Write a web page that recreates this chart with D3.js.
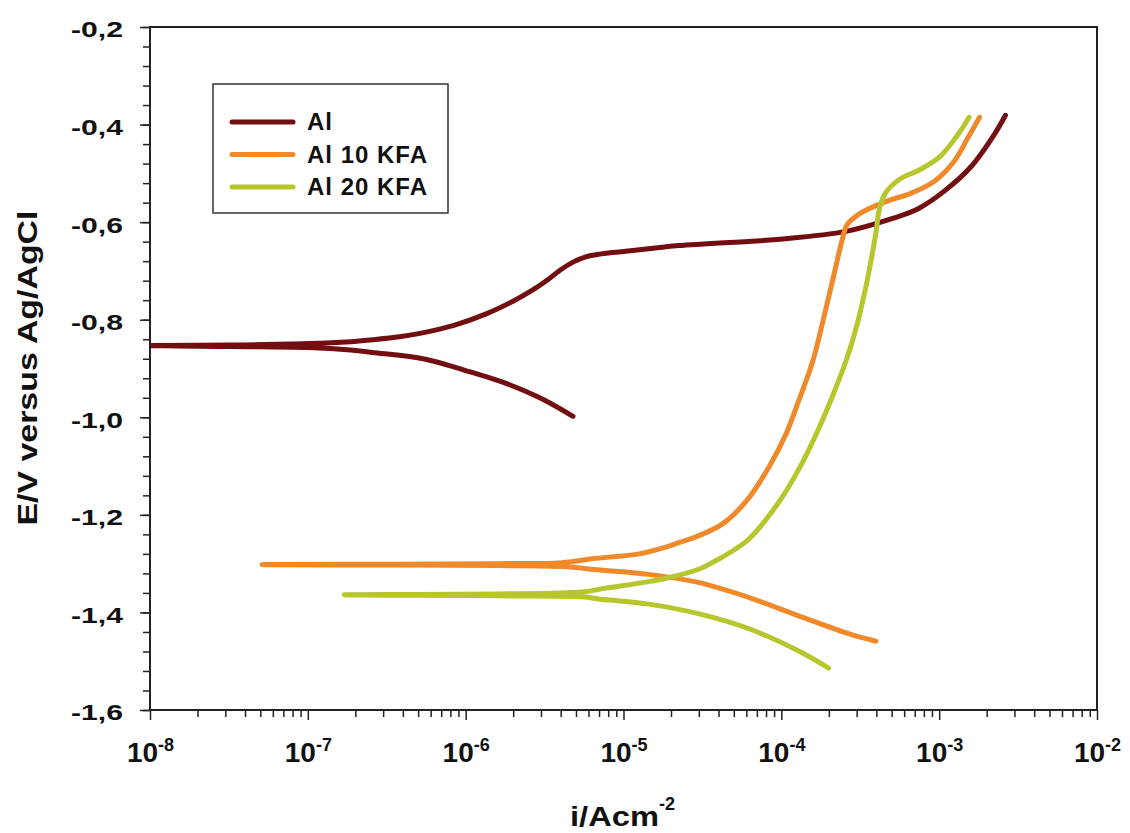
<html>
<head>
<meta charset="utf-8">
<style>
  body { margin: 0; background: #fff; }
  text { font-family: "Liberation Sans", Arial, sans-serif; font-weight: bold; fill: #111; }
</style>
</head>
<body>
<script src="https://d3js.org/d3.v7.min.js"></script>
<div id="chart"></div>
<script>
// series values: log10(i / A cm^-2) and E / V
var seriesNames = ["Al", "Al 10 KFA", "Al 20 KFA"];

var alLogI = [-5.32, -5.53, -5.74, -5.96, -6.27, -6.59, -6.73, -7.0, -7.5, -8.0,
  -7.5, -7.0, -6.73, -6.59, -6.42, -6.29, -6.08, -5.87, -5.70, -5.58, -5.48, -5.40, -5.32, -5.24, -5.14,
  -5.03, -4.77, -4.65, -4.14, -4.01, -3.59, -3.29, -3.13, -2.97, -2.80, -2.65, -2.58];
var alE = [-0.998, -0.960, -0.931, -0.908, -0.880, -0.867, -0.862, -0.857, -0.855, -0.853,
  -0.852, -0.849, -0.845, -0.841, -0.835, -0.828, -0.812, -0.788, -0.762, -0.740, -0.718, -0.698, -0.682, -0.671, -0.665,
  -0.661, -0.652, -0.648, -0.638, -0.635, -0.619, -0.592, -0.572, -0.537, -0.487, -0.420, -0.381];

var kfa10LogI = [-3.40, -3.57, -3.89, -4.20, -4.52, -4.84, -5.15, -5.39, -5.79, -6.42, -7.29,
  -6.42, -5.79, -5.39, -5.20, -4.90, -4.73, -4.65, -4.54, -4.37, -4.22, -4.08, -3.97, -3.89,
  -3.80, -3.74, -3.68, -3.61, -3.585, -3.50, -3.33, -3.18, -3.03, -2.905, -2.816, -2.744];
var kfa10E = [-1.459, -1.444, -1.407, -1.370, -1.339, -1.322, -1.313, -1.306, -1.304, -1.303, -1.302,
  -1.301, -1.300, -1.298, -1.290, -1.280, -1.266, -1.257, -1.245, -1.218, -1.171, -1.103, -1.034, -0.966,
  -0.884, -0.808, -0.726, -0.631, -0.606, -0.582, -0.557, -0.541, -0.516, -0.475, -0.426, -0.385];

var kfa20LogI = [-3.70, -3.89, -4.20, -4.52, -4.84, -5.04, -5.15, -5.26, -5.79, -6.29, -6.77,
  -6.29, -5.79, -5.26, -5.11, -4.90, -4.73, -4.52, -4.41, -4.30, -4.20, -4.01, -3.87, -3.76,
  -3.68, -3.59, -3.525, -3.46, -3.40, -3.38, -3.34, -3.25, -3.12, -2.99, -2.88, -2.81];
var kfa20E = [-1.514, -1.479, -1.434, -1.403, -1.383, -1.376, -1.373, -1.368, -1.366, -1.365, -1.364,
  -1.363, -1.362, -1.358, -1.350, -1.340, -1.330, -1.311, -1.293, -1.272, -1.248, -1.171, -1.095, -1.021,
  -0.960, -0.884, -0.816, -0.726, -0.620, -0.575, -0.540, -0.512, -0.492, -0.464, -0.420, -0.385];

// tick labels
var xTickExp = ["-8", "-7", "-6", "-5", "-4", "-3", "-2"];
var yTicks = [-0.2, -0.4, -0.6, -0.8, -1.0, -1.2, -1.4, -1.6];

var colors = ["#730e10", "#f0892a", "#b7c62c"];

var width = 1130, height = 833;
var margin = {top: 27, right: 33, bottom: 123, left: 150};

var svg = d3.select("#chart").append("svg")
  .attr("width", width).attr("height", height);

var xScale = d3.scaleLog().domain([1e-8, 1e-2]).range([margin.left, width - margin.right]);
var yScale = d3.scaleLinear().domain([-1.6, -0.2]).range([height - margin.bottom, margin.top]);

function toPoints(logI, E) {
  return logI.map((d, k) => ({i: Math.pow(10, d), e: E[k]}));
}
var series = [
  toPoints(alLogI, alE),
  toPoints(kfa10LogI, kfa10E),
  toPoints(kfa20LogI, kfa20E)
];

// minor + major ticks, x
var xMajor = xTickExp.map(e => Math.pow(10, +e));
var xMinor = [];
xMajor.slice(0, -1).forEach(function(m) {
  for (var k = 2; k <= 9; k++) xMinor.push(m * k);
});

var yBottom = height - margin.bottom;

svg.append("g")
  .attr("transform", "translate(0," + yBottom + ")")
  .call(d3.axisBottom(xScale).tickValues(xMinor).tickSize(7).tickFormat(""))
  .call(g => g.select(".domain").remove());

var xAx = svg.append("g")
  .attr("transform", "translate(0," + yBottom + ")")
  .call(d3.axisBottom(xScale).tickValues(xMajor).tickSize(10).tickFormat(""))
  .call(g => g.select(".domain").remove());

xAx.selectAll(".tick").each(function(d, k) {
  var t = d3.select(this).append("text")
    .attr("y", 52)
    .attr("text-anchor", "middle")
    .attr("fill", "#111")
    .style("font-size", "28px");
  t.append("tspan").text("10");
  t.append("tspan").attr("dy", -11).style("font-size", "18px").text(xTickExp[k]);
});

// minor + major ticks, y
var yMinor = d3.range(0, 36).map(k => -0.2 - k * 0.04).filter(v => v >= -1.6001);

svg.append("g")
  .attr("transform", "translate(" + margin.left + ",0)")
  .call(d3.axisLeft(yScale).tickValues(yMinor).tickSize(7).tickFormat(""))
  .call(g => g.select(".domain").remove());

svg.append("g")
  .attr("transform", "translate(" + margin.left + ",0)")
  .call(d3.axisLeft(yScale).tickValues(yTicks).tickSize(10)
    .tickFormat(d => d.toFixed(1).replace(".", ",")))
  .call(g => g.select(".domain").remove())
  .call(g => g.selectAll(".tick text")
    .attr("x", -27).attr("dy", "0.45em")
    .attr("textLength", 52).attr("lengthAdjust", "spacingAndGlyphs")
    .style("font-size", "22px").attr("fill", "#111")
    .style("font-family", "'Liberation Sans', Arial, sans-serif").style("font-weight", "bold"));

svg.selectAll(".tick line").attr("stroke", "#222").attr("stroke-width", 1.5);

// curves
svg.append("clipPath").attr("id", "plotclip").append("rect")
  .attr("x", margin.left).attr("y", margin.top)
  .attr("width", width - margin.left - margin.right)
  .attr("height", height - margin.top - margin.bottom);

var line = d3.line()
  .x(d => xScale(d.i))
  .y(d => yScale(d.e))
  .curve(d3.curveCatmullRom.alpha(0.5));

svg.append("g").attr("clip-path", "url(#plotclip)")
  .selectAll("path")
  .data(series)
  .join("path")
  .attr("d", line)
  .attr("fill", "none")
  .attr("stroke", (d, k) => colors[k])
  .attr("stroke-width", 5)
  .attr("stroke-linejoin", "round")
  .attr("stroke-linecap", "round");

// frame
svg.append("rect")
  .attr("x", margin.left).attr("y", margin.top)
  .attr("width", width - margin.left - margin.right)
  .attr("height", height - margin.top - margin.bottom)
  .attr("fill", "none").attr("stroke", "#222").attr("stroke-width", 2);

// axis titles
var xt = svg.append("text")
  .attr("x", 570).attr("y", 826)
  .style("font-size", "27px");
xt.append("tspan").attr("textLength", 89).attr("lengthAdjust", "spacingAndGlyphs").text("i/Acm");
xt.append("tspan").attr("dy", -16).style("font-size", "18px").text("-2");

svg.append("text")
  .attr("transform", "translate(37,368) rotate(-90)")
  .attr("text-anchor", "middle")
  .attr("textLength", 315).attr("lengthAdjust", "spacingAndGlyphs")
  .style("font-size", "27px")
  .text("E/V versus Ag/AgCl");

// legend
var legend = svg.append("g");
legend.append("rect")
  .attr("x", 213).attr("y", 84).attr("width", 235).attr("height", 129)
  .attr("fill", "#fff").attr("stroke", "#333").attr("stroke-width", 1.5);

var entries = legend.selectAll("g.entry")
  .data(seriesNames)
  .join("g")
  .attr("class", "entry")
  .attr("transform", (d, k) => "translate(0," + (122 + k * 32.5) + ")");

entries.append("line")
  .attr("x1", 232).attr("x2", 293)
  .attr("stroke", (d, k) => colors[k])
  .attr("stroke-width", 5)
  .attr("stroke-linecap", "round");

entries.append("text")
  .attr("x", 307).attr("y", 8)
  .style("font-size", "24px")
  .style("letter-spacing", "1px")
  .text(d => d);
</script>
</body>
</html>
